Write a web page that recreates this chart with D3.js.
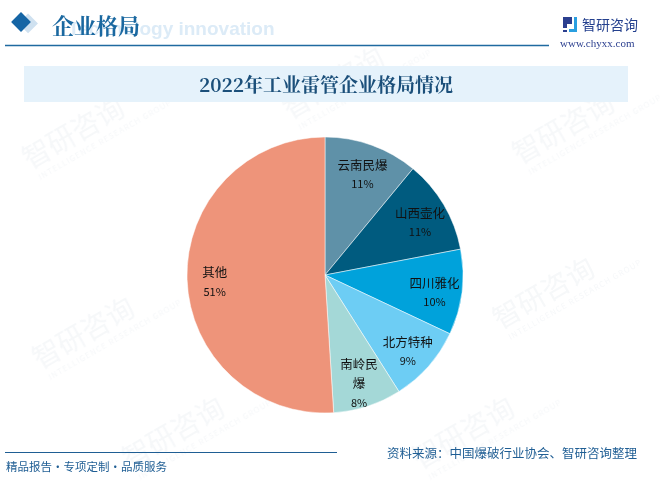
<!DOCTYPE html>
<html>
<head>
<meta charset="utf-8">
<script src="https://cdn.jsdelivr.net/npm/d3@7"></script>
<style>
  html, body { margin: 0; padding: 0; background: #fff; }
  svg { display: block; font-family: "Noto Sans CJK SC", "Noto Sans", sans-serif; }
</style>
</head>
<body>
<svg id="chart" width="667" height="483"></svg>
<script>
// data
const companies = ["云南民爆", "山西壶化", "四川雅化", "北方特种", "南岭民爆", "其他"];
const shares = [11, 11, 10, 9, 8, 51];
const sliceColours = ["#5f91a8", "#005b7f", "#00a2db", "#6dcdf4", "#a4d8d7", "#ee947a"];
// label lines (南岭民爆 wraps in the original)
const labelLines = [["云南民爆"], ["山西壶化"], ["四川雅化"], ["北方特种"], ["南岭民", "爆"], ["其他"]];

const chartTitle = "2022年工业雷管企业格局情况";
const sectionTitle = "企业格局";
const sourceNote = "资料来源：中国爆破行业协会、智研咨询整理";
const slogan = "精品报告·专项定制·品质服务";

const width = 667;
const height = 483;
const svg = d3.select("#chart");

// faint watermarks
const marks = [[30, 170], [290, 120], [520, 165], [40, 370], [300, 340], [500, 330], [130, 470], [420, 470]];
const wm = svg.append("g").attr("opacity", 0.3);
marks.forEach(([x, y]) => {
    const g = wm.append("g").attr("transform", `translate(${x},${y}) rotate(-30)`);
    g.append("text").attr("x", 0).attr("y", 0)
        .attr("font-size", 28).attr("fill", "#e0e6ec").text("智研咨询");
    g.append("text").attr("x", 4).attr("y", 14)
        .attr("font-size", 8).attr("fill", "#e0e6ec").attr("letter-spacing", 1)
        .text("INTELLIGENCE RESEARCH GROUP");
});

// header
const header = svg.append("g");
header.append("text")
    .attr("x", 68).attr("y", 35)
    .attr("font-family", "Liberation Sans, Arial, sans-serif")
    .attr("font-weight", "bold").attr("font-size", 19)
    .attr("fill", "#dcebf7")
    .text("Technology innovation");
header.append("rect")
    .attr("x", 14).attr("y", 15).attr("width", 14).attr("height", 14)
    .attr("transform", "rotate(45 21 22) translate(6,-4)")
    .attr("fill", "#cfe1f0");
header.append("rect")
    .attr("x", 14).attr("y", 15).attr("width", 14).attr("height", 14)
    .attr("transform", "rotate(45 21 22)")
    .attr("fill", "#1565a5");
header.append("text")
    .attr("x", 52).attr("y", 34)
    .attr("font-family", "Noto Serif CJK SC, Noto Sans CJK SC, serif")
    .attr("font-weight", "bold").attr("font-size", 22)
    .attr("fill", "#1a68a0")
    .text(sectionTitle);
header.append("line")
    .attr("x1", 5).attr("x2", 549).attr("y1", 45.5).attr("y2", 45.5)
    .attr("stroke", "#1f6aa0").attr("stroke-width", 1.5);

// logo
const logo = svg.append("g").attr("transform", "translate(563,17)");
logo.append("path").attr("d", "M0,0 H9 V7 H4 V11 H0 Z M0,13 H4 V15 H0 Z").attr("fill", "#2b3f8f");
logo.append("path").attr("d", "M11,0 H14 V15 H6 V12 H11 Z").attr("fill", "#2a9fe0");
logo.append("text").attr("x", 19).attr("y", 13)
    .attr("font-size", 14).attr("fill", "#24408e").text("智研咨询");
svg.append("text").attr("x", 560).attr("y", 47)
    .attr("font-family", "Liberation Serif, serif")
    .attr("font-size", 11).attr("fill", "#2b3f8f")
    .text("www.chyxx.com");

// title band
svg.append("rect")
    .attr("x", 24).attr("y", 66).attr("width", 604).attr("height", 36)
    .attr("fill", "#e5f2fb");
svg.append("text")
    .attr("x", 326).attr("y", 92)
    .attr("text-anchor", "middle")
    .attr("font-family", "Noto Serif CJK SC, Liberation Serif, serif")
    .attr("font-weight", "bold").attr("font-size", 19)
    .attr("fill", "#1b4f7a")
    .text(chartTitle);

// pie
const cx = 325, cy = 275, radius = 138;
const data = companies.map((name, i) => ({ name, value: shares[i], lines: labelLines[i], colour: sliceColours[i] }));
const pie = d3.pie().sort(null).value(d => d.value);
const arc = d3.arc().innerRadius(0).outerRadius(radius);
const labelArc = d3.arc().innerRadius(radius * 0.8).outerRadius(radius * 0.8);
const arcs = pie(data);

const pieG = svg.append("g").attr("transform", `translate(${cx},${cy})`);
pieG.selectAll("path")
    .data(arcs)
    .join("path")
    .attr("d", arc)
    .attr("fill", d => d.data.colour)
    .attr("stroke", "#fff")
    .attr("stroke-width", 0.5);

const labels = pieG.selectAll("g.label")
    .data(arcs)
    .join("g")
    .attr("class", "label")
    .attr("transform", d => {
        const [x, y] = labelArc.centroid(d);
        return `translate(${x},${y + 4})`;
    });

labels.each(function (d) {
    const g = d3.select(this);
    const lines = d.data.lines.concat([d.data.value + "%"]);
    const lh = 19;
    const top = -((lines.length - 1) * lh) / 2;
    lines.forEach((t, j) => {
        g.append("text")
            .attr("x", 0)
            .attr("y", top + j * lh)
            .attr("dy", "0.35em")
            .attr("text-anchor", "middle")
            .attr("font-size", j === lines.length - 1 ? 11 : 12.5)
            .attr("fill", "#111")
            .text(t);
    });
});

// footer
svg.append("line")
    .attr("x1", 5).attr("x2", 337).attr("y1", 452.5).attr("y2", 452.5)
    .attr("stroke", "#1f5e94").attr("stroke-width", 1);
svg.append("text")
    .attr("x", 6).attr("y", 471)
    .attr("font-size", 11.5).attr("fill", "#1f5e94")
    .text(slogan);
svg.append("text")
    .attr("x", 637).attr("y", 458)
    .attr("text-anchor", "end")
    .attr("font-size", 12.5).attr("fill", "#1f5e94")
    .text(sourceNote);
</script>
</body>
</html>
